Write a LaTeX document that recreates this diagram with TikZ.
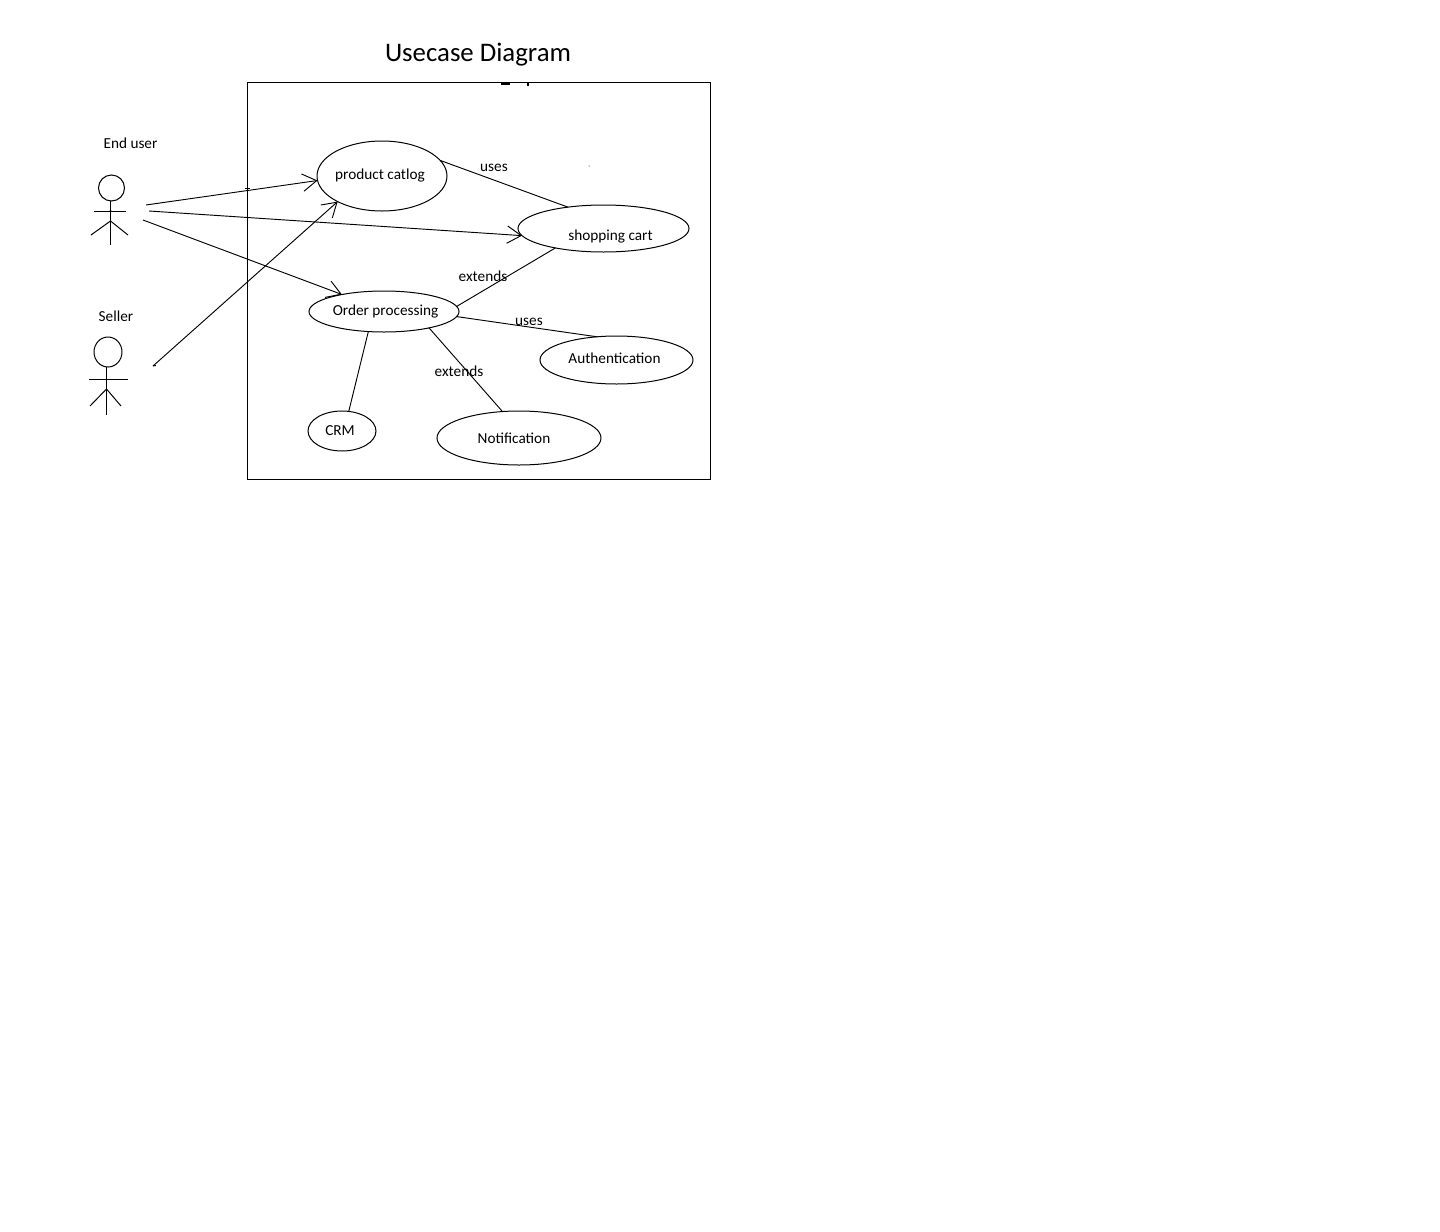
\documentclass[tikz,border=0pt]{standalone}
\usepackage{fontspec}
\setmainfont{Carlito}
\usetikzlibrary{shapes.geometric,arrows.meta}
\tikzset{
  usecase/.style={draw=black,ellipse,line width=.75pt,inner sep=0pt,outer sep=0pt},
  lbl/.style={inner sep=0pt,font=\fontsize{11.45}{13}\selectfont,text height=8pt,text depth=2pt,align=center},
  link/.style={draw=black,line width=.7pt},
  arrowlink/.style={link,-{Straight Barb[length=10.5pt,width=13pt,line width=.7pt]}},
  stick/.style={draw=black,line width=.75pt},
}
\begin{document}
\begin{tikzpicture}[x=.75pt,y=-.75pt]
\useasboundingbox (0,0) rectangle (1440,1232);
\node[draw=black,line width=.75pt,inner sep=0pt,outer sep=0pt,minimum width=347.25pt,minimum height=297.75pt] (system) at (478.5,280.5) {};
\node[inner sep=0pt,font=\fontsize{20.1}{24}\selectfont] (title) at (478,54.5) {Usecase Diagram};
% use cases
\node[usecase,minimum width=97.5pt,minimum height=52.5pt] (pc) at (382,176) {};
\node[usecase,minimum width=128.25pt,minimum height=35.25pt] (sc) at (603.5,228.5) {};
\node[usecase,minimum width=112.5pt,minimum height=30.75pt] (op) at (384,311.5) {};
\node[usecase,minimum width=114.75pt,minimum height=36pt] (au) at (616.5,360) {};
\node[usecase,minimum width=51pt,minimum height=30pt] (crm) at (342,431) {};
\node[usecase,minimum width=123pt,minimum height=40.5pt] (nf) at (519,438) {};
% labels
\node[lbl] (tpc) at (380,175) {product catlog};
\node[lbl] (tsc) at (610.5,236) {shopping cart};
\node[lbl] (top) at (385.5,311) {Order processing};
\node[lbl] (tau) at (614.5,359) {Authentication};
\node[lbl] (tcrm) at (340,431) {CRM};
\node[lbl] (tnf) at (514,439) {Notification};
\node[lbl] (tend) at (130.5,144) {End user};
\node[lbl] (tsel) at (116,317) {Seller};
\node[lbl] (u1) at (494,167) {uses};
\node[lbl] (e1) at (483,277) {extends};
\node[lbl] (u2) at (529,321) {uses};
\node[lbl] (e2) at (459,372) {extends};
% end user actor
\node[draw=black,circle,line width=.75pt,inner sep=0pt,outer sep=0pt,minimum size=19.5pt] (head1) at (111.5,188) {};
\coordinate (hip1) at (110.5,221);
\coordinate (foot1) at (110.5,245);
\draw[stick] (head1.south -| foot1) -- (foot1);
\draw[stick] (94,211) -- (126,211);
\draw[stick] (91,235) -- (hip1) -- (128,235);
\fill (110.5,211) circle[radius=1.2];
% seller actor
\node[draw=black,ellipse,line width=.75pt,inner sep=0pt,outer sep=0pt,minimum width=21pt,minimum height=22.5pt] (head2) at (108,352) {};
\coordinate (hip2) at (106.5,389);
\coordinate (foot2) at (106.5,415);
\draw[stick] (head2.south -| foot2) -- (foot2);
\draw[stick] (89,379) -- (128,379);
\draw[stick] (90,406) -- (hip2) -- (121,406);
% actor connector ends
\coordinate (a1) at (146,205);
\coordinate (a2) at (149,211);
\coordinate (a3) at (143,220);
\coordinate (s1) at (153,366);
\draw[arrowlink] (a1) -- (pc.184);
\draw[arrowlink] (a2) -- (sc.185);
\draw[arrowlink] (a3) -- (op.158);
\draw[arrowlink] (s1) -- (pc.210);
\draw[link] (s1) -- +(3,-.5);
% associations
\draw[link] (pc.15) -- (sc.149);
\draw[link] (op.4) -- (sc.202);
\draw[link] (op.-4) -- (au.130);
\draw[link] (op.232) -- (crm.71);
\draw[link] (op.-20) -- (nf.122);
% specks
\fill (589,166) circle[radius=.5];
\fill (501,83) rectangle (510,84.5);
\fill (527,83) rectangle (529,85.5);
\fill (244.5,188) rectangle (249.5,189);
\end{tikzpicture}
\end{document}
